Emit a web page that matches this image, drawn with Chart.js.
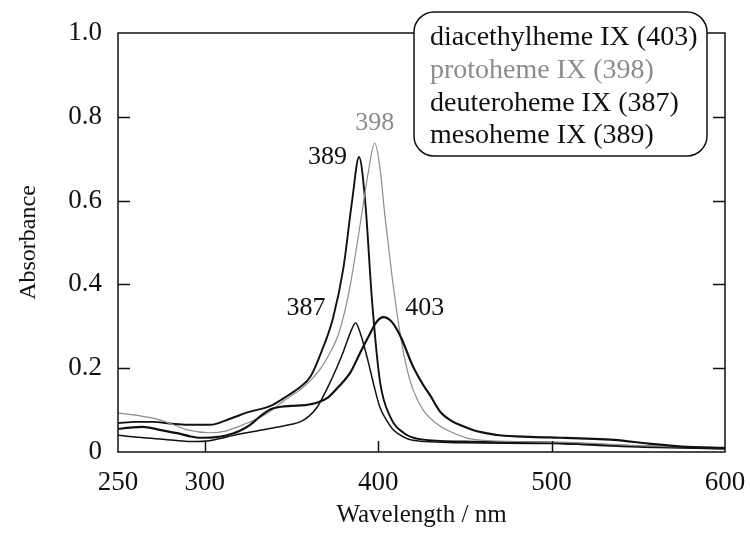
<!DOCTYPE html>
<html>
<head>
<meta charset="utf-8">
<script src="https://cdn.jsdelivr.net/npm/chart.js@4/dist/chart.umd.min.js"></script>
<style>
  html, body { margin: 0; padding: 0; background: #fff; }
  #wrap { width: 750px; height: 533px; }
</style>
</head>
<body>
<div id="wrap"><canvas id="c" width="750" height="533"></canvas></div>
<script>
// Absorption spectra of heme derivatives (wavelength in nm, absorbance)
const xTicks = [250, 300, 400, 500, 600];
const yTicks = [0, 0.2, 0.4, 0.6, 0.8, 1.0];

const diacethylWl = [250, 257, 264, 274, 284, 292, 297, 305, 313, 320, 326, 332, 338, 344, 350, 358, 365, 371, 377, 384, 390, 395, 399, 403, 408, 413, 420, 426, 430, 436, 442, 448, 455, 460, 470, 488, 505, 520, 536, 556, 575, 600];
const diacethylAbs = [0.055, 0.058, 0.060, 0.053, 0.045, 0.037, 0.034, 0.035, 0.040, 0.050, 0.064, 0.085, 0.102, 0.108, 0.110, 0.112, 0.118, 0.130, 0.155, 0.190, 0.240, 0.280, 0.310, 0.322, 0.310, 0.275, 0.205, 0.160, 0.135, 0.095, 0.075, 0.063, 0.052, 0.047, 0.040, 0.036, 0.034, 0.032, 0.029, 0.020, 0.013, 0.010];

const protoWl = [250, 262, 272, 282, 290, 303, 312, 319, 328, 337, 345, 352, 357, 362, 367, 372, 377, 381, 384, 388, 391, 394, 398, 401, 404, 408, 412, 416, 420, 426, 433, 440, 455, 480, 510, 550, 600];
const protoAbs = [0.093, 0.087, 0.079, 0.065, 0.053, 0.046, 0.050, 0.060, 0.075, 0.095, 0.120, 0.140, 0.155, 0.175, 0.200, 0.235, 0.280, 0.340, 0.400, 0.500, 0.580, 0.660, 0.737, 0.680, 0.560, 0.420, 0.300, 0.210, 0.150, 0.100, 0.070, 0.052, 0.030, 0.025, 0.023, 0.015, 0.010];

const deuteroWl = [250, 262, 274, 285, 293, 303, 312, 320, 330, 340, 350, 355, 360, 365, 371, 376, 380, 384, 387, 390, 394, 397.5, 401, 405, 409, 415, 420, 450, 500, 550, 600];
const deuteroAbs = [0.040, 0.035, 0.031, 0.027, 0.025, 0.027, 0.035, 0.043, 0.050, 0.058, 0.066, 0.072, 0.085, 0.108, 0.155, 0.200, 0.240, 0.285, 0.308, 0.280, 0.220, 0.160, 0.107, 0.075, 0.052, 0.035, 0.028, 0.022, 0.020, 0.012, 0.008];

const mesoWl = [250, 260, 270, 280, 290, 303, 315, 325, 338, 348, 355, 361, 367, 374, 380, 385, 389, 392.5, 396.5, 401, 407, 415, 425, 450, 500, 550, 600];
const mesoAbs = [0.069, 0.072, 0.072, 0.068, 0.065, 0.065, 0.080, 0.095, 0.110, 0.135, 0.155, 0.180, 0.236, 0.320, 0.440, 0.600, 0.704, 0.600, 0.360, 0.170, 0.084, 0.045, 0.030, 0.025, 0.022, 0.014, 0.008];

const seriesNames = ['diacethylheme IX (403)', 'protoheme IX (398)', 'deuteroheme IX (387)', 'mesoheme IX (389)'];
const seriesColors = ['#111111', '#8c8c8c', '#111111', '#111111'];
const seriesWidths = [2.2, 1.2, 1.5, 1.9];
const seriesWl = [diacethylWl, protoWl, deuteroWl, mesoWl];
const seriesAbs = [diacethylAbs, protoAbs, deuteroAbs, mesoAbs];

// Peak wavelengths annotated next to each band
const peakWl = [403, 398, 387, 389];

const serif = "'Liberation Serif', 'Times New Roman', serif";

function toPoints(xs, ys) {
  return xs.map((x, i) => ({ x: x, y: ys[i] }));
}

const datasets = seriesNames.map((name, i) => ({
  label: name,
  data: toPoints(seriesWl[i], seriesAbs[i]),
  borderColor: seriesColors[i],
  borderWidth: seriesWidths[i],
  pointRadius: 0,
  fill: false,
  cubicInterpolationMode: 'monotone'
}));

function peakValue(i) {
  const idx = seriesWl[i].indexOf(peakWl[i]);
  return seriesAbs[i][idx];
}

// Frame, inward tick marks, peak labels and the boxed legend
const decorations = {
  id: 'decorations',
  afterDraw(chart) {
    const { ctx, chartArea: a, scales } = chart;
    const xs = scales.x, ys = scales.y;
    ctx.save();
    ctx.strokeStyle = '#111';
    ctx.lineWidth = 1.5;
    ctx.strokeRect(a.left, a.top, a.right - a.left, a.bottom - a.top);

    ctx.beginPath();
    yTicks.forEach(v => {
      if (v <= 0 || v >= 1) return;
      const py = Math.round(ys.getPixelForValue(v)) + 0.5;
      ctx.moveTo(a.left, py); ctx.lineTo(a.left + 12, py);
      ctx.moveTo(a.right, py); ctx.lineTo(a.right - 12, py);
    });
    xTicks.forEach(v => {
      if (v <= 250 || v >= 600) return;
      const px = Math.round(xs.getPixelForValue(v)) + 0.5;
      ctx.moveTo(px, a.bottom); ctx.lineTo(px, a.bottom - 11);
    });
    ctx.stroke();

    // peak annotations
    const offsets = [
      { dx: 22, dy: -9, align: 'left' },
      { dx: 0, dy: -20, align: 'center' },
      { dx: -30, dy: -15, align: 'right' },
      { dx: -12, dy: 0, align: 'right' }
    ];
    ctx.font = '26px ' + serif;
    ctx.textBaseline = 'middle';
    peakWl.forEach((wl, i) => {
      const px = xs.getPixelForValue(wl);
      const py = ys.getPixelForValue(peakValue(i));
      ctx.fillStyle = i === 1 ? '#8c8c8c' : '#111';
      ctx.textAlign = offsets[i].align;
      ctx.fillText(String(wl), px + offsets[i].dx, py + offsets[i].dy);
    });

    // legend box
    const bx = 414, by = 12, bw = 293, bh = 144, r = 20;
    ctx.beginPath();
    ctx.moveTo(bx + r, by);
    ctx.lineTo(bx + bw - r, by);
    ctx.arcTo(bx + bw, by, bx + bw, by + r, r);
    ctx.lineTo(bx + bw, by + bh - r);
    ctx.arcTo(bx + bw, by + bh, bx + bw - r, by + bh, r);
    ctx.lineTo(bx + r, by + bh);
    ctx.arcTo(bx, by + bh, bx, by + bh - r, r);
    ctx.lineTo(bx, by + r);
    ctx.arcTo(bx, by, bx + r, by, r);
    ctx.closePath();
    ctx.fillStyle = '#fff';
    ctx.fill();
    ctx.lineWidth = 1.5;
    ctx.strokeStyle = '#111';
    ctx.stroke();

    ctx.font = '28px ' + serif;
    ctx.textAlign = 'left';
    ctx.textBaseline = 'alphabetic';
    const baselines = [45, 78, 111, 143];
    seriesNames.forEach((name, i) => {
      ctx.fillStyle = i === 1 ? '#8c8c8c' : '#111';
      ctx.fillText(name, 430, baselines[i]);
    });
    ctx.restore();
  }
};

new Chart(document.getElementById('c'), {
  type: 'line',
  data: { datasets: datasets },
  options: {
    responsive: false,
    animation: false,
    devicePixelRatio: 1,
    layout: { padding: { top: 33, right: 25, left: 0, bottom: 0 } },
    plugins: { legend: { display: false }, tooltip: { enabled: false } },
    scales: {
      x: {
        type: 'linear',
        min: 250, max: 600,
        afterBuildTicks: s => { s.ticks = xTicks.map(v => ({ value: v })); },
        afterFit: s => { s.height = 81; s.paddingLeft = 0; s.paddingRight = 0; },
        grid: { display: false, drawTicks: false },
        border: { display: false },
        ticks: { color: '#111', font: { family: serif, size: 27 }, padding: 15, maxRotation: 0, autoSkip: false },
        title: { display: true, text: 'Wavelength / nm', color: '#111', font: { family: serif, size: 25 }, padding: { top: 0, bottom: 3 } }
      },
      y: {
        min: 0, max: 1,
        afterBuildTicks: s => { s.ticks = yTicks.map(v => ({ value: v })); },
        afterFit: s => { s.width = 118; s.paddingTop = 0; s.paddingBottom = 0; },
        grid: { display: false, drawTicks: false },
        border: { display: false },
        ticks: {
          color: '#111', font: { family: serif, size: 27 }, padding: 16,
          callback: v => (v === 0 ? '0' : v.toFixed(1))
        },
        title: { display: true, text: 'Absorbance', color: '#111', font: { family: serif, size: 24 }, padding: { top: 14, bottom: 0 } }
      }
    }
  },
  plugins: [decorations]
});
</script>
</body>
</html>
